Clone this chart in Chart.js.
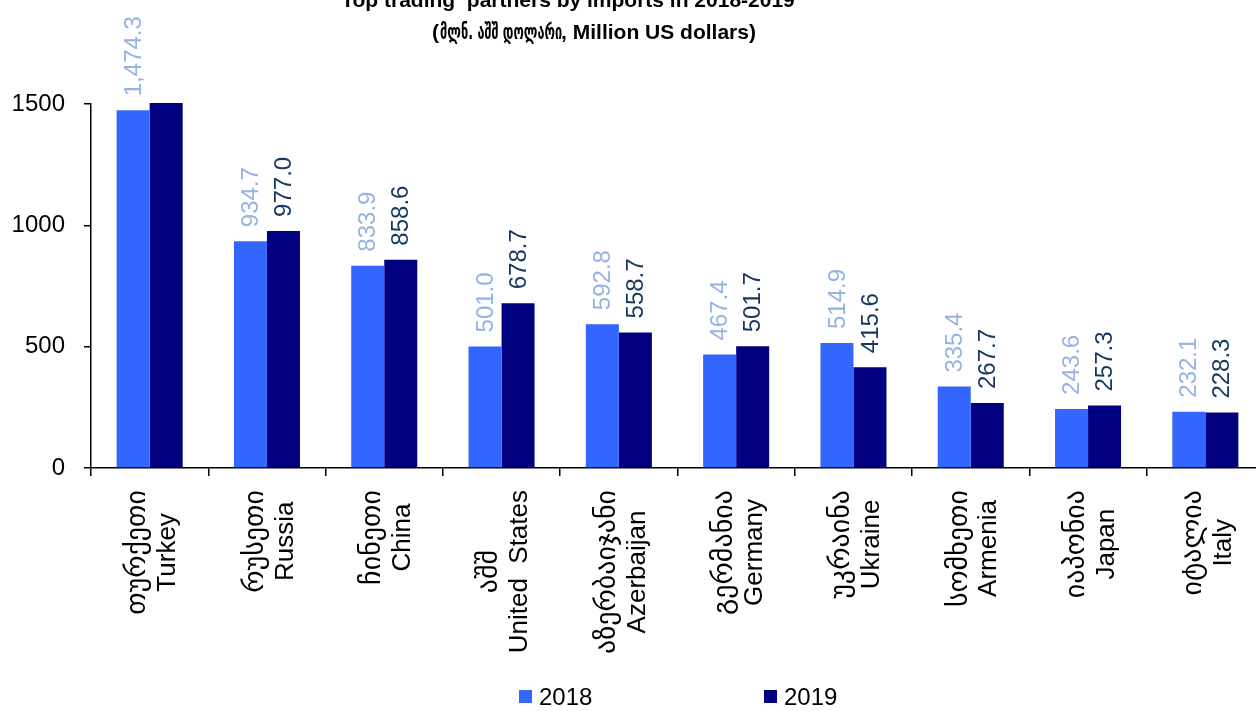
<!DOCTYPE html>
<html><head><meta charset="utf-8">
<script src="https://cdn.jsdelivr.net/npm/chart.js@4/dist/chart.umd.min.js"></script>
<style>html,body{margin:0;padding:0;overflow:hidden;background:#fff;width:1256px;height:711px}
canvas{display:block}</style></head>
<body><canvas id="c" width="1264" height="711"></canvas>
<script>
const titleLine1 = 'Top trading  partners by imports in 2018-2019';
const titleLine2Ka = 'მლნ. აშშ დოლარი';
const titleLine2En = 'Million US dollars';
const categoriesKa = ['თურქეთი','რუსეთი','ჩინეთი','აშშ','აზერბაიჯანი','გერმანია','უკრაინა','სომხეთი','იაპონია','იტალია'];
const categoriesEn = ['Turkey','Russia','China','United  States','Azerbaijan','Germany','Ukraine','Armenia','Japan','Italy'];
const seriesNames = ['2018','2019'];
const values2018 = [1474.3, 934.7, 833.9, 501.0, 592.8, 467.4, 514.9, 335.4, 243.6, 232.1];
const values2019 = [1504.0, 977.0, 858.6, 678.7, 558.7, 501.7, 415.6, 267.7, 257.3, 228.3];
const labels2018 = ['1,474.3','934.7','833.9','501.0','592.8','467.4','514.9','335.4','243.6','232.1'];
const labels2019 = ['','977.0','858.6','678.7','558.7','501.7','415.6','267.7','257.3','228.3'];
const yTicks = [0, 500, 1000, 1500];

const FONT = '"Liberation Sans", Arial, "DejaVu Sans", sans-serif';
const colors = ['#3366ff', '#000080'];
const labelColors = ['#95b3e3', '#17375e'];

const overlay = {
  id: 'overlay',
  afterDraw(chart) {
    const ctx = chart.ctx;
    const x = chart.scales.x;
    const allLabels = [labels2018, labels2019];
    // value labels
    ctx.save();
    ctx.font = '24px ' + FONT;
    ctx.textAlign = 'left';
    ctx.textBaseline = 'middle';
    for (let d = 0; d < 2; d++) {
      const meta = chart.getDatasetMeta(d);
      meta.data.forEach((bar, i) => {
        const txt = allLabels[d][i];
        if (!txt) return;
        ctx.save();
        ctx.fillStyle = labelColors[d];
        ctx.translate(bar.x, bar.y - 14);
        ctx.rotate(-Math.PI / 2);
        ctx.fillText(txt, 0, 1);
        ctx.restore();
      });
    }
    ctx.restore();
    // category labels
    ctx.save();
    ctx.fillStyle = '#000';
    ctx.textAlign = 'center';
    ctx.textBaseline = 'middle';
    const top = chart.chartArea.bottom + 22;
    const L = 31;
    const fonts = ['28px "DejaVu Sans", sans-serif', '26px ' + FONT];
    categoriesEn.forEach((en, i) => {
      const cx = x.getPixelForValue(i) + 3;
      const lines = [categoriesKa[i], en];
      const widths = lines.map((t, k) => { ctx.font = fonts[k]; return ctx.measureText(t).width; });
      const maxW = Math.max(...widths);
      ctx.save();
      ctx.translate(cx, top);
      ctx.rotate(-Math.PI / 2);
      lines.forEach((t, k) => { ctx.font = fonts[k]; ctx.fillText(t, -maxW / 2, (k - 0.5) * L + (k === 0 ? 1 : 0)); });
      ctx.restore();
    });
    ctx.restore();
    // title
    ctx.save();
    ctx.font = 'bold 21px ' + FONT;
    ctx.fillStyle = '#000';
    ctx.textAlign = 'center';
    ctx.textBaseline = 'alphabetic';
    ctx.fillText(titleLine1, 568, 7);
    const y2 = 39;
    ctx.textAlign = 'left';
    const pOpen = '(', pMid = ', ', pClose = ')';
    const wOpen = ctx.measureText(pOpen).width;
    const wMid = ctx.measureText(pMid).width;
    const wEn = ctx.measureText(titleLine2En + pClose).width;
    const kaFont = 'bold 22px "DejaVu Sans", sans-serif';
    ctx.font = kaFont;
    const wKaNat = ctx.measureText(titleLine2Ka).width;
    const wKa = 122;
    const total = wOpen + wKa + wMid + wEn;
    let px = 594 - total / 2;
    ctx.font = 'bold 21px ' + FONT;
    ctx.fillText(pOpen, px, y2); px += wOpen + 1;
    ctx.save();
    ctx.font = kaFont;
    ctx.translate(px, y2);
    ctx.scale(wKa / wKaNat, 1);
    ctx.fillText(titleLine2Ka, 0, 0);
    ctx.restore();
    px += wKa - 1;
    ctx.font = 'bold 21px ' + FONT;
    ctx.fillText(pMid + titleLine2En + pClose, px, y2);
    ctx.restore();
    // legend
    ctx.save();
    ctx.font = '24px ' + FONT;
    ctx.textAlign = 'left';
    ctx.textBaseline = 'middle';
    const lx = [519, 764];
    seriesNames.forEach((n, k) => {
      ctx.fillStyle = colors[k];
      ctx.fillRect(lx[k], 690, 13, 13);
      ctx.fillStyle = '#000';
      ctx.fillText(n, lx[k] + 20, 698);
    });
    ctx.restore();
  }
};

new Chart(document.getElementById('c'), {
  type: 'bar',
  data: {
    labels: categoriesEn,
    datasets: [
      { label: seriesNames[0], data: values2018, backgroundColor: colors[0], barPercentage: 1, categoryPercentage: 0.563, clip: false },
      { label: seriesNames[1], data: values2019, backgroundColor: colors[1], barPercentage: 1, categoryPercentage: 0.563, clip: false }
    ]
  },
  options: {
    responsive: false,
    animation: false,
    devicePixelRatio: 1,
    layout: { padding: { top: 104, left: 0, right: 0, bottom: 0 } },
    plugins: { legend: { display: false }, title: { display: false }, tooltip: { enabled: false } },
    scales: {
      x: {
        offset: true,
        grid: { display: true, offset: true, drawOnChartArea: false, tickLength: 8, color: '#000', lineWidth: 1.5 },
        border: { display: true, color: '#000', width: 1.5 },
        ticks: { display: false },
        afterFit(s) { s.height = 711 - 468; }
      },
      y: {
        min: 0, max: 1500,
        afterBuildTicks(s) { s.ticks = yTicks.map(v => ({ value: v })); },
        ticks: { font: { family: FONT, size: 24 }, color: '#000', padding: 19, callback: v => String(v) },
        grid: { display: true, drawOnChartArea: false, tickLength: 7, color: '#000', lineWidth: 1.5 },
        border: { display: true, color: '#000', width: 1.5 },
        afterFit(s) { s.width = 91; }
      }
    }
  },
  plugins: [overlay]
});
</script></body></html>
